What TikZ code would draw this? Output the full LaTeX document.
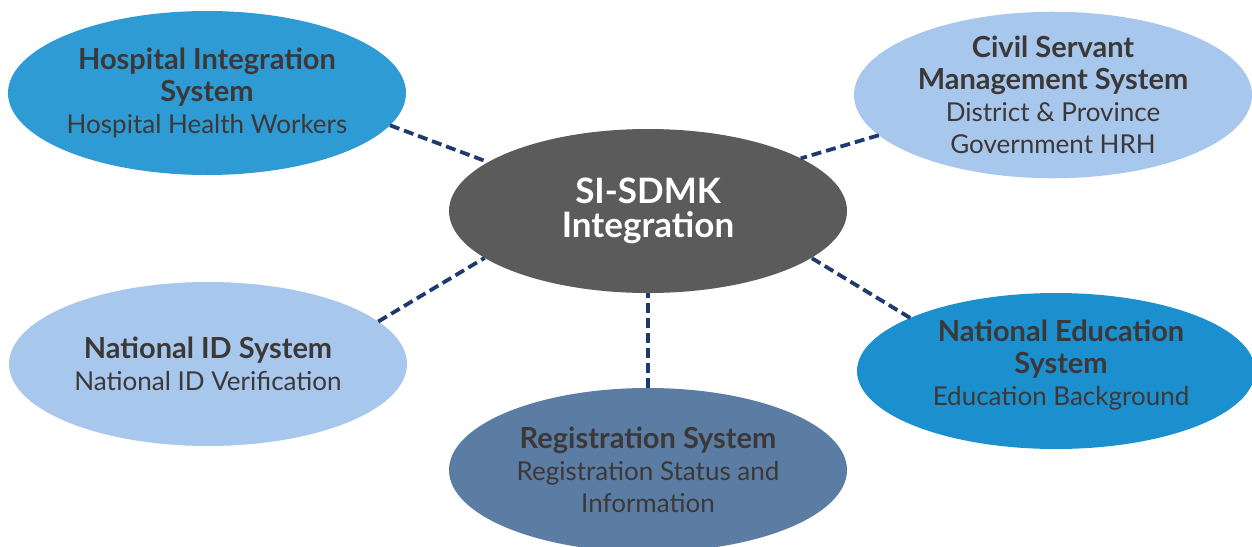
\documentclass[tikz,border=0pt]{standalone}
\usepackage{fontspec}
\setmainfont{Lato}
\usetikzlibrary{shapes.geometric}
\definecolor{hospblue}{HTML}{2E9BD5}
\definecolor{lightblue}{HTML}{A8C7EC}
\definecolor{coregray}{HTML}{5B5B5B}
\definecolor{regblue}{HTML}{5B7CA3}
\definecolor{edublue}{HTML}{1C8FCF}
\definecolor{txtgray}{HTML}{3D3838}
\definecolor{navy}{HTML}{1F3A6E}
\newcommand{\hd}[1]{{\fontsize{29}{32}\selectfont\bfseries #1}}
\tikzset{
  sysnode/.style={ellipse, inner sep=0pt, outer sep=0pt, minimum width=398pt, minimum height=164pt,
    align=center, text=txtgray, font=\fontsize{26}{32}\selectfont},
  plaintext/.style={inner sep=0pt, align=center, text=txtgray, font=\fontsize{26}{32}\selectfont},
  corenode/.style={sysnode, fill=coregray, text=white, font=\fontsize{35}{34}\selectfont\bfseries},
  link/.style={draw=navy, line width=3.8pt, dash pattern=on 10pt off 5pt}
}
\begin{document}
\begin{tikzpicture}[x=1pt,y=-1pt]
\useasboundingbox (0,0) rectangle (1252,546);
\node[sysnode, fill=hospblue] (hosp) at (207,93) {\hd{Hospital Integration}\\\hd{System}\\Hospital Health Workers};
\node[sysnode, fill=lightblue] (civil) at (1053,95) {\hd{Civil Servant}\\\hd{Management System}\\District \& Province\\Government HRH};
\node[corenode] (core) at (648,211) {SI-SDMK\\Integration};
\node[sysnode, fill=lightblue] (natid) at (208,364) {\hd{National ID System}\\National ID Verification};
\node[sysnode, fill=regblue] (reg) at (648,470) {\hd{Registration System}\\Registration Status and\\Information};
\node[sysnode, fill=edublue, minimum height=156pt] (edu) at (1056,371) {};
\node[plaintext] (edutext) at (1061,365) {\hd{National Education}\\\hd{System}\\Education Background};
\draw[link] (hosp.-10.8) -- (core.163.5);
\draw[link] (civil.193.3) -- (core.19.2);
\draw[link] (natid.14.8) -- (core.196);
\draw[link] (reg.90) -- (core.270);
\draw[link] (edu.160) -- (core.344.3);
\end{tikzpicture}
\end{document}
